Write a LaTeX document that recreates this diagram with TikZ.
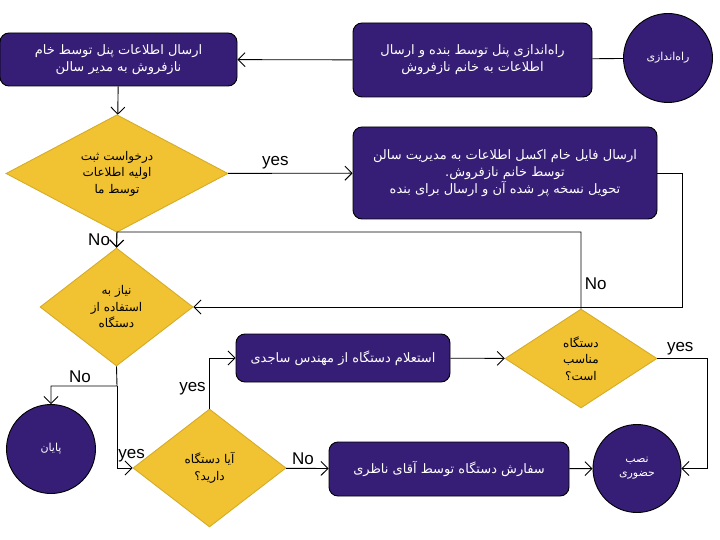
\documentclass[tikz,border=0pt]{standalone}
\usepackage{fontspec}
\setmainfont{Liberation Sans}
\newfontfamily\arabicfont[Script=Arabic]{DejaVu Sans}
\TeXXeTstate=1
\usepackage{tikz}
\usetikzlibrary{shapes,arrows.meta,positioning}
\definecolor{mpurple}{RGB}{54,30,118}
\definecolor{myellow}{RGB}{241,194,50}
\definecolor{mgold}{RGB}{214,172,38}
\newcommand{\fa}[1]{\beginR #1\endR}

\begin{document}
\begin{tikzpicture}[x=1pt,y=-1pt,>={Straight Barb[length=7pt,width=14pt]},line width=0.9pt]
    \tikzstyle{task}=[rectangle,rounded corners=9pt,fill=mpurple,draw=black,text=white,align=center,inner sep=0pt,font=\arabicfont\fontsize{13}{17}\selectfont]
    \tikzstyle{term}=[circle,fill=mpurple,draw=black,text=white,align=center,inner sep=0pt,minimum size=89pt,font=\arabicfont\fontsize{11}{14}\selectfont]
    \tikzstyle{ask}=[diamond,fill=myellow,draw=mgold,text=black,align=center,inner sep=0pt,font=\arabicfont\fontsize{12}{16.5}\selectfont]
    \tikzstyle{lbl}=[font=\fontsize{17}{17}\selectfont]

    \useasboundingbox (0,0) rectangle (720,540);

    \node[term] (start) at (668,58) {\fa{راه‌اندازی}};
    \node[task,minimum width=239pt,minimum height=74pt] (setup) at (472.5,60) {\fa{راه‌اندازی پنل توسط بنده و ارسال}\\\fa{اطلاعات به خانم نازفروش}};
    \node[task,minimum width=237pt,minimum height=53pt] (sendinfo) at (118.5,59.5) {\fa{ارسال اطلاعات پنل توسط خام}\\\fa{نازفروش به مدیر سالن}};
    \node[ask,minimum width=222pt,minimum height=117pt] (request) at (117,173.5) {\fa{درخواست ثبت}\\\fa{اولیه اطلاعات}\\\fa{توسط ما}};
    \node[task,minimum width=304pt,minimum height=92pt] (excel) at (505,173) {\fa{ارسال فایل خام اکسل اطلاعات به مدیریت سالن}\\\fa{توسط خانم نازفروش.}\\\fa{تحویل نسخه پر شده آن و ارسال برای بنده}};
    \node[ask,minimum width=153pt,minimum height=118pt] (need) at (116.5,307) {\fa{نیاز به}\\\fa{استفاده از}\\\fa{دستگاه}};
    \node[term] (finish) at (51,449) {\fa{پایان}};
    \node[ask,minimum width=153pt,minimum height=118pt] (have) at (209.5,468) {\fa{آیا دستگاه}\\\fa{دارید؟}};
    \node[task,minimum width=214pt,minimum height=48pt] (inquiry) at (343,358) {\fa{استعلام دستگاه از مهندس ساجدی}};
    \node[ask,minimum width=152pt,minimum height=99pt] (suitable) at (581,358.5) {\fa{دستگاه}\\\fa{مناسب}\\\fa{است؟}};
    \node[task,minimum width=240pt,minimum height=54pt] (order) at (449,469) {\fa{سفارش دستگاه توسط آقای ناظری}};
    \node[term,minimum size=88pt] (install) at (637,468.5) {\fa{نصب}\\\fa{حضوری}};

    \coordinate (back1) at (682,307);
    \coordinate (nojoin) at (117,232);
    \coordinate (split) at (117,386);
    \coordinate (back2) at (707,468.5);

    \path
    (start) edge (setup)
    (setup) edge [->] (sendinfo)
    (sendinfo) edge [->] (request)
    (request) edge [->] node[lbl,above,pos=0.38] {yes} (excel)
    (request) edge [->] node[lbl,left,xshift=-3pt] {No} (need)
    (inquiry) edge [->] (suitable)
    (have) edge [->] node[lbl,above,pos=0.4] {No} (order)
    (order) edge [->] (install);

    \draw[->] (excel.east) -| (back1) -- (need.east);
    \draw[->] (suitable.north) |- node[lbl,right,pos=0.16] {No} (nojoin) -- (need.north);
    \draw[->] (need.south) -- (split) -| node[lbl,above,pos=0.28] {No} (finish.north);
    \draw[->] (split) |- node[lbl,above right,pos=0.5,inner sep=1pt,yshift=5pt] {yes} (have.west);
    \draw[->] (have.north) |- node[lbl,left,pos=0.2] {yes} (inquiry.west);
    \draw[->] (suitable.east) -| node[lbl,above,pos=0.23] {yes} (back2) -- (install.east);
\end{tikzpicture}
\end{document}
